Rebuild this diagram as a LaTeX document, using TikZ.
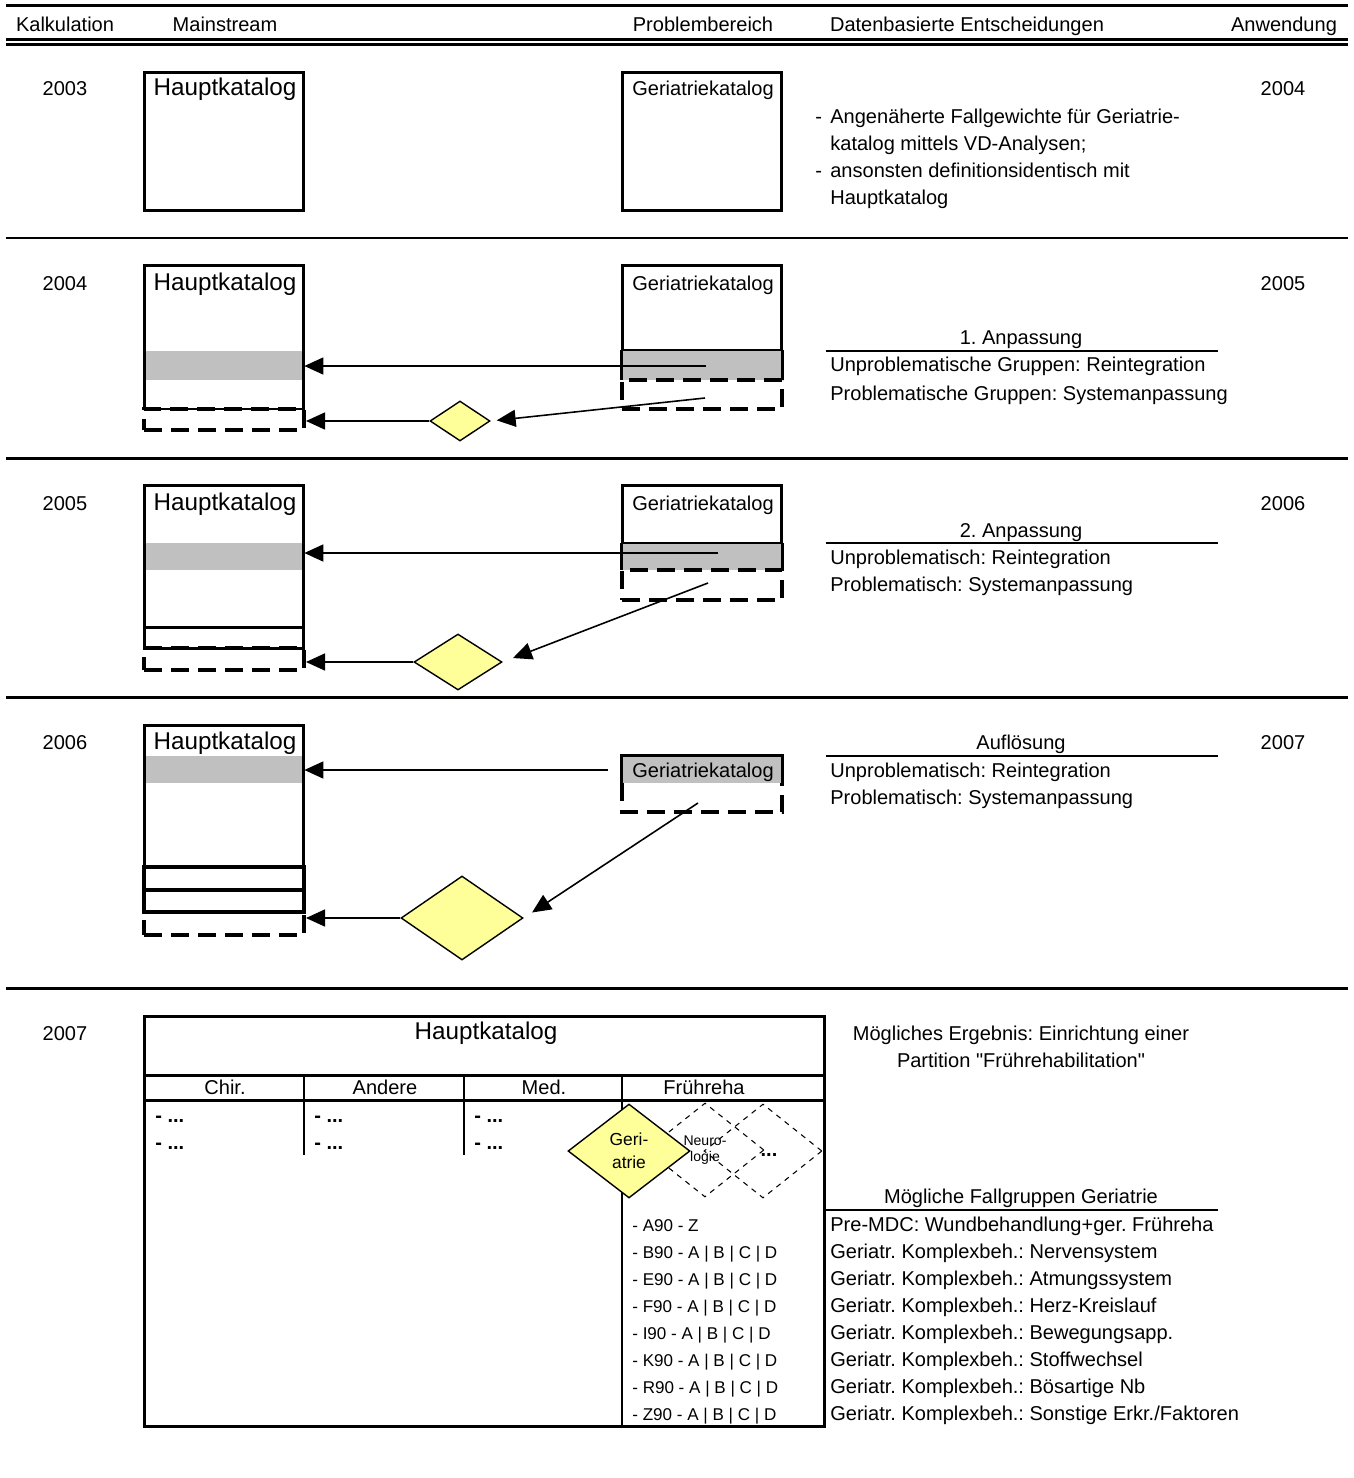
\documentclass[tikz,border=0pt]{standalone}
\usepackage{fontspec}
\setmainfont{Liberation Sans}[Ligatures=TeXOff]
\usetikzlibrary{positioning, calc, arrows.meta, shapes.geometric}
\definecolor{bandgray}{HTML}{C0C0C0}
\definecolor{diayellow}{HTML}{FFFF99}
\frenchspacing

\begin{document}
\begin{tikzpicture}[x=0.02cm, y=-0.02cm,
  every node/.style={inner sep=0pt, font=\fontsize{11.4}{13}\selectfont},
  txt/.style={anchor=base},
  ltxt/.style={anchor=base west},
  hkfont/.style={font=\fontsize{13.8}{16}\selectfont},
  codefont/.style={font=\fontsize{9.7}{11}\selectfont},
  sepline/.style={line width=1.7pt},
  underline/.style={line width=1.1pt},
  box/.style={draw, line width=1.7pt, minimum width=3.2cm},
  band/.style={fill=bandgray, minimum width=3.2cm},
  dbox/.style={draw, line width=2.3pt, dash pattern=on 0.36cm off 0.18cm, minimum width=3.2cm},
  dline/.style={line width=2.3pt, dash pattern=on 0.36cm off 0.18cm},
  arr/.style={line width=0.9pt, -{Triangle[length=0.38cm, width=0.34cm]}},
  dia/.style={draw, diamond, fill=diayellow, line width=0.8pt},
  ddia/.style={draw, diamond, dashed, line width=0.6pt, minimum width=2.36cm, minimum height=1.88cm}]
\useasboundingbox (0,0) rectangle (1353,1478);

\draw[sepline] (6,5.5) -- (1348,5.5);
\draw[sepline] (6,39.5) -- (1348,39.5);
\draw[sepline] (6,44.5) -- (1348,44.5);
\foreach \y in {238,458,697,988}
  \draw[sepline] (6,\y) -- (1348,\y);

\node[txt] (kalk) at (65,31) {Kalkulation};
\node[txt] (main) at (225,31) {Mainstream};
\node[txt] (prob) at (703,31) {Problembereich};
\node[txt] (daten) at (967,31) {Datenbasierte Entscheidungen};
\node[txt] (anw) at (1284,31) {Anwendung};

\foreach \l/\r/\y in {2003/2004/95, 2004/2005/290, 2005/2006/510, 2006/2007/749} {
  \node[txt] (k\l) at (65,\y) {\l};
  \node[txt] (a\r) at (1283,\y) {\r};
}
\node[txt] (k2007) at (65,1040) {2007};

% 2003
\node[box, minimum height=2.78cm] (h1) at (224,141.5) {};
\node[hkfont, txt] (h1t) at (225,95) {Hauptkatalog};
\node[box, minimum height=2.78cm] (g1) at (702,141.5) {};
\node[txt] (g1t) at (703,95) {Geriatriekatalog};
\node[ltxt] (b1a) at (815,123) {-};
\node[ltxt] (t1a) at (830,123) {Angenäherte Fallgewichte für Geriatrie-};
\node[ltxt] (t1b) at (830,150) {katalog mittels VD-Analysen;};
\node[ltxt] (b1c) at (815,177) {-};
\node[ltxt] (t1c) at (830,177) {ansonsten definitionsidentisch mit};
\node[ltxt] (t1d) at (830,204) {Hauptkatalog};

% 2004
\node[dbox, minimum height=0.42cm] (h2d) at (224,419.5) {};
\node[band, minimum height=0.58cm] (h2g) at (224,365.5) {};
\node[box, minimum height=2.88cm] (h2) at (224,337) {};
\node[hkfont, txt] (h2t) at (225,290) {Hauptkatalog};
\node[band, minimum height=0.6cm] (g2g) at (702,365) {};
\node[box, minimum height=1.7cm] (g2) at (702,307.5) {};
\draw[sepline] (g2g.north west) -- (g2g.south west) (g2g.north east) -- (g2g.south east);
\node[dbox, minimum height=0.58cm] (g2d) at (702,394.5) {};
\node[txt] (g2t) at (703,290) {Geriatriekatalog};
\node[dia, minimum width=1.2cm, minimum height=0.8cm] (d2) at (460,421) {};
\coordinate (a2) at (706,366);
\coordinate (b2) at (705,398);
\draw[arr] (a2) -- (a2 -| h2g.east);
\draw[arr, shorten >=0.12cm] (b2) -- (d2.east);
\draw[arr] (d2.west) -- (d2.west -| h2d.east);
\node[txt] (r2t) at (1021,344) {1. Anpassung};
\draw[underline] (826,351) -- (1218,351);
\node[ltxt] (r2a) at (830,371) {Unproblematische Gruppen: Reintegration};
\node[ltxt] (r2b) at (830,400) {Problematische Gruppen: Systemanpassung};

% 2005
\node[dbox, minimum height=0.44cm] (h3d) at (224,659) {};
\node[band, minimum height=0.54cm] (h3g) at (224,556.5) {};
\node[box, minimum height=2.84cm] (h3) at (224,556) {};
\node[box, minimum height=0.42cm] (h3b) at (224,637.5) {};
\node[hkfont, txt] (h3t) at (225,510) {Hauptkatalog};
\node[band, minimum height=0.54cm] (g3g) at (702,556.5) {};
\node[box, minimum height=1.16cm] (g3) at (702,514) {};
\draw[sepline] (g3g.north west) -- (g3g.south west) (g3g.north east) -- (g3g.south east);
\node[dbox, minimum height=0.6cm] (g3d) at (702,585) {};
\node[txt] (g3t) at (703,510) {Geriatriekatalog};
\node[dia, minimum width=1.76cm, minimum height=1.12cm] (d3) at (458,662) {};
\coordinate (a3) at (718,553);
\coordinate (b3) at (708,583);
\draw[arr] (a3) -- (a3 -| h3g.east);
\draw[arr, shorten >=0.22cm] (b3) -- (d3.east);
\draw[arr] (d3.west) -- (d3.west -| h3d.east);
\node[txt] (r3t) at (1021,537) {2. Anpassung};
\draw[underline] (826,543) -- (1218,543);
\node[ltxt] (r3a) at (830,564) {Unproblematisch: Reintegration};
\node[ltxt] (r3b) at (830,591) {Problematisch: Systemanpassung};

% 2006
\node[dbox, minimum height=0.46cm] (h4d) at (224,923.5) {};
\node[band, minimum height=0.54cm] (h4g) at (224,769.5) {};
\node[box, minimum height=2.84cm] (h4) at (224,796) {};
\node[box, minimum height=0.46cm, line width=2.1pt] (h4b) at (224,878.5) {};
\node[box, minimum height=0.44cm, line width=2.1pt] (h4c) at (224,901) {};
\node[hkfont, txt] (h4t) at (225,749) {Hauptkatalog};
\node[band, minimum height=0.54cm] (g4) at (702,769.5) {};
\node[txt] (g4t) at (703,777) {Geriatriekatalog};
\draw[sepline] (g4.south west) |- (g4.north east) -- (g4.south east);
\draw[dline] (g4.south west) -- ++(0,29) -| (g4.south east);
\node[dia, minimum width=2.44cm, minimum height=1.68cm] (d4) at (462,918) {};
\coordinate (a4) at (608,770);
\coordinate (b4) at (698,803);
\draw[arr] (a4) -- (a4 -| h4g.east);
\draw[arr, shorten >=0.2cm] (b4) -- (d4.east);
\draw[arr] (d4.west) -- (d4.west -| h4d.east);
\node[txt] (r4t) at (1021,749) {Auflösung};
\draw[underline] (826,756) -- (1218,756);
\node[ltxt] (r4a) at (830,777) {Unproblematisch: Reintegration};
\node[ltxt] (r4b) at (830,804) {Problematisch: Systemanpassung};

% 2007
\node[draw, line width=1.7pt, minimum width=13.62cm, minimum height=8.22cm] (hk) at (484.5,1221.5) {};
\node[hkfont, txt] (hkt) at (486,1039) {Hauptkatalog};
\draw[sepline] (144,1075) -- (825,1075);
\draw[sepline] (144,1100) -- (825,1100);
\draw[line width=1.3pt] (304,1075) -- (304,1155) (464,1075) -- (464,1155);
\draw[sepline] (622,1075) -- (622,1427);
\foreach \x/\n/\t in {225/c1/Chir., 385/c2/Andere, 544/c3/Med., 704/c4/Frühreha}
  \node[txt] (\n) at (\x,1094) {\t};
\foreach \x/\i in {155/1, 314/2, 474/3} {
  \node[ltxt] (da\i) at (\x,1122) {\textbf{- ...}};
  \node[ltxt] (db\i) at (\x,1149) {\textbf{- ...}};
}
\node[ddia] (e5) at (763,1151) {};
\node[ddia, font=\fontsize{8}{9.5}\selectfont, align=center] (n5) at (705,1150) {Neuro-\\logie};
\node[anchor=base] (e5t) at (769,1156) {\textbf{...}};
\node[dia, minimum width=2.44cm, minimum height=1.88cm, align=center, font=\fontsize{9.9}{13}\selectfont] (g5) at (629,1151) {Geri-\\atrie};
\foreach \t [count=\i from 0] in {- A90 - Z, - B90 - A | B | C | D, - E90 - A | B | C | D, - F90 - A | B | C | D, - I90 - A | B | C | D, - K90 - A | B | C | D, - R90 - A | B | C | D, - Z90 - A | B | C | D}
  \node[ltxt, codefont] (cd\i) at (632,1231+27*\i) {\t};
\node[txt] (erg1) at (1021,1040) {Mögliches Ergebnis: Einrichtung einer};
\node[txt] (erg2) at (1021,1067) {Partition "Frührehabilitation"};
\node[txt] (fgt) at (1021,1203) {Mögliche Fallgruppen Geriatrie};
\draw[underline] (826,1210) -- (1218,1210);
\foreach \t [count=\i from 0] in {Pre-MDC: Wundbehandlung+ger. Frühreha, Geriatr. Komplexbeh.: Nervensystem, Geriatr. Komplexbeh.: Atmungssystem, Geriatr. Komplexbeh.: Herz-Kreislauf, Geriatr. Komplexbeh.: Bewegungsapp., Geriatr. Komplexbeh.: Stoffwechsel, Geriatr. Komplexbeh.: Bösartige Nb, Geriatr. Komplexbeh.: Sonstige Erkr./Faktoren}
  \node[ltxt] (fg\i) at (830,1231+27*\i) {\t};
\end{tikzpicture}
\end{document}
